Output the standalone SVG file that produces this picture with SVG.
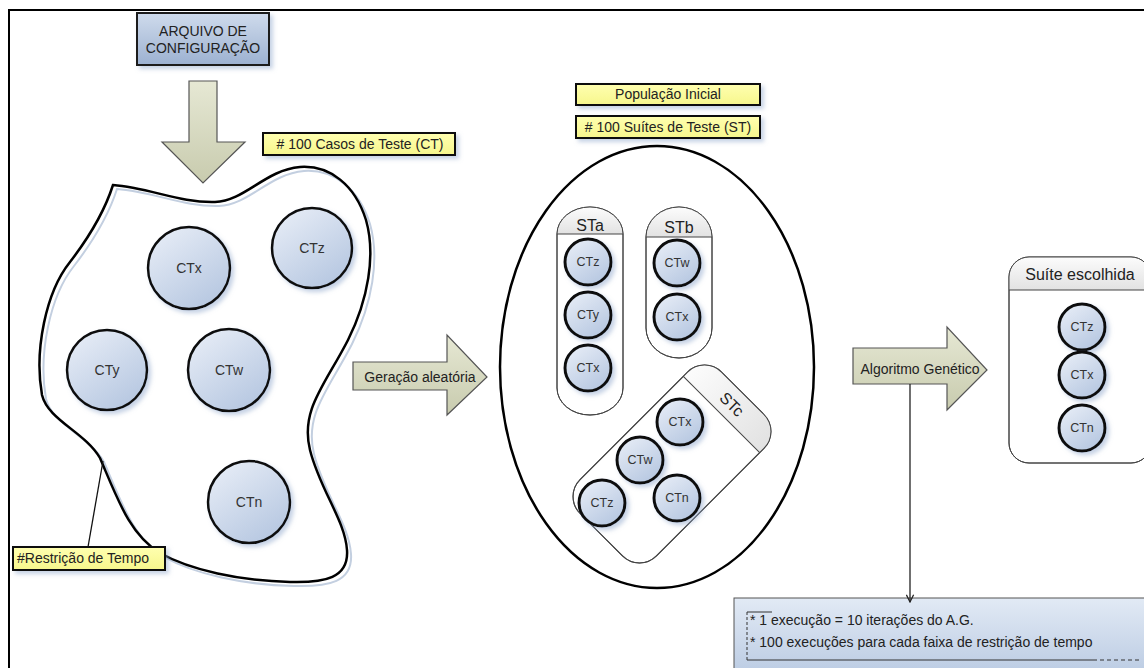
<svg xmlns="http://www.w3.org/2000/svg" width="1144" height="668" viewBox="0 0 1144 668">
<defs>
  <linearGradient id="gBall" x1="0.2" y1="0" x2="0.9" y2="1">
    <stop offset="0" stop-color="#e6ecf6"/><stop offset="1" stop-color="#b2c4df"/>
  </linearGradient>
  <linearGradient id="gBox" x1="0" y1="0" x2="0" y2="1">
    <stop offset="0" stop-color="#cfdbec"/><stop offset="1" stop-color="#9cb1d1"/>
  </linearGradient>
  <linearGradient id="gArrow" x1="0" y1="0" x2="0" y2="1">
    <stop offset="0" stop-color="#e6e8d4"/><stop offset="1" stop-color="#c8cbae"/>
  </linearGradient>
  <linearGradient id="gHead" x1="0" y1="0" x2="0" y2="1">
    <stop offset="0" stop-color="#fcfcfc"/><stop offset="1" stop-color="#e2e2e2"/>
  </linearGradient>
  <linearGradient id="gNote" x1="0" y1="0" x2="0" y2="1">
    <stop offset="0" stop-color="#e2eaf5"/><stop offset="1" stop-color="#b9cae2"/>
  </linearGradient>
  <linearGradient id="gLabel" x1="0" y1="0" x2="0" y2="1">
    <stop offset="0" stop-color="#ffffb0"/><stop offset="1" stop-color="#f6f68c"/>
  </linearGradient>
  <filter id="sh" x="-30%" y="-30%" width="170%" height="170%">
    <feDropShadow dx="3" dy="3" stdDeviation="2" flood-color="#8ea6cc" flood-opacity="0.5"/>
  </filter>
  <marker id="arr" viewBox="0 0 10 10" refX="9" refY="5" markerWidth="9" markerHeight="9" orient="auto" markerUnits="userSpaceOnUse">
    <path d="M1,1 L9,5 L1,9" fill="none" stroke="#222" stroke-width="1.4"/>
  </marker>
  <clipPath id="cSTa"><path d="M557,234 A33,27 0 0 1 623,234 V388 A33,27 0 0 1 557,388 Z"/></clipPath>
  <clipPath id="cSTb"><path d="M646,237 A33,30 0 0 1 712,237 V328 A33,30 0 0 1 646,328 Z"/></clipPath>
  <clipPath id="cSTc"><rect x="-100" y="-54" width="200" height="108" rx="24"/></clipPath>
  <clipPath id="cSel"><rect x="1009" y="257" width="142" height="206" rx="20"/></clipPath>
</defs>
<style>
  text { font-family: "Liberation Sans", Arial, sans-serif; fill: #222; }
  .lbl { font-size: 14px; }
  .ball { fill: url(#gBall); stroke: #111; stroke-width: 2.5; filter: url(#sh); }
  .sball { fill: url(#gBall); stroke: #111; stroke-width: 3; filter: url(#sh); }
  .bt { font-size: 14px; text-anchor: middle; fill: #333; }
  .st { font-size: 12.5px; text-anchor: middle; fill: #333; }
  .note { fill: url(#gLabel); stroke: #111; stroke-width: 2; filter: url(#sh); }
  .arrow { fill: url(#gArrow); stroke: #555; stroke-width: 1.2; }
  .suite { fill: #fff; stroke: #444; stroke-width: 1; }
  .hdr { fill: url(#gHead); }
  .hline { stroke: #444; stroke-width: 1; fill: none; }
  .sname { font-size: 16px; text-anchor: middle; fill: #222; }
</style>

<rect x="0" y="0" width="1144" height="668" fill="#fff"/>
<g id="frame">
  <path d="M9,668 V10 H1144" fill="none" stroke="#000" stroke-width="2"/>
</g>

<g id="config">
  <rect x="137" y="13" width="132" height="52" fill="url(#gBox)" stroke="#1a1a1a" stroke-width="2" filter="url(#sh)"/>
  <text class="lbl" x="203" y="36" text-anchor="middle" font-size="13.5">ARQUIVO DE</text>
  <text class="lbl" x="203" y="53" text-anchor="middle" font-size="13.5">CONFIGURAÇÃO</text>
</g>

<g id="arrow-down">
  <polygon class="arrow" points="189,81 217,81 217,142 245,142 203,183 162,142 189,142"/>
</g>

<g id="label-ct">
  <rect class="note" x="263" y="133" width="192" height="22"/>
  <text class="lbl" x="360" y="149" text-anchor="middle">&#35; 100 Casos de Teste (CT)</text>
</g>

<g id="pool">
  <path d="M113,185 C150,188 180,203 215,202 C245,201 265,170 300,167 C330,165 355,185 366,220 C376,255 368,300 348,340 C325,385 300,410 310,450 C320,490 345,520 347,550 C349,578 325,583 290,582 C240,581 190,570 160,553 C130,535 118,500 100,458 C85,432 48,420 42,395 C34,350 46,292 70,262 C90,236 105,210 113,185 Z" fill="none" stroke="#c3cfe0" stroke-width="2" transform="translate(4,4)"/>
  <path d="M113,185 C150,188 180,203 215,202 C245,201 265,170 300,167 C330,165 355,185 366,220 C376,255 368,300 348,340 C325,385 300,410 310,450 C320,490 345,520 347,550 C349,578 325,583 290,582 C240,581 190,570 160,553 C130,535 118,500 100,458 C85,432 48,420 42,395 C34,350 46,292 70,262 C90,236 105,210 113,185 Z" fill="none" stroke="#000" stroke-width="2.5"/>
</g>

<g id="pool-CTx"><circle class="ball" cx="189" cy="268" r="41"/><text class="bt" x="189" y="273">CTx</text></g>
<g id="pool-CTz"><circle class="ball" cx="312" cy="248" r="40"/><text class="bt" x="312" y="253">CTz</text></g>
<g id="pool-CTy"><circle class="ball" cx="107" cy="370" r="40"/><text class="bt" x="107" y="375">CTy</text></g>
<g id="pool-CTw"><circle class="ball" cx="229" cy="370" r="41"/><text class="bt" x="229" y="375">CTw</text></g>
<g id="pool-CTn"><circle class="ball" cx="249" cy="502" r="41"/><text class="bt" x="249" y="507">CTn</text></g>

<g id="label-tempo">
  <rect class="note" x="13" y="547" width="152" height="23"/>
  <text class="lbl" x="17" y="563">#Restrição de Tempo</text>
</g>

<g id="arrow-geracao">
  <polygon class="arrow" points="353,362 447,362 447,335 487,377 447,415 447,390 353,390"/>
  <text class="lbl" x="420" y="382" text-anchor="middle" font-size="14.5">Geração aleatória</text>
</g>

<g id="label-pop">
  <rect class="note" x="576" y="84" width="184" height="21"/>
  <text class="lbl" x="668" y="99" text-anchor="middle">População Inicial</text>
</g>
<g id="label-st">
  <rect class="note" x="576" y="116" width="184" height="22"/>
  <text class="lbl" x="668" y="132" text-anchor="middle">&#35; 100 Suítes de Teste (ST)</text>
</g>

<g id="population">
  <ellipse cx="657" cy="367" rx="157" ry="221" fill="none" stroke="#000" stroke-width="2.5"/>
</g>

<g id="STa">
  <path class="suite" d="M557,234 A33,27 0 0 1 623,234 V388 A33,27 0 0 1 557,388 Z"/>
  <rect class="hdr" x="557" y="207" width="66" height="27" clip-path="url(#cSTa)"/>
  <path class="hline" d="M557,234 A33,27 0 0 1 623,234 V388 A33,27 0 0 1 557,388 Z M557,234 H623"/>
  <text class="sname" x="590" y="231">STa</text>
  <circle class="sball" cx="588" cy="262" r="23"/><text class="st" x="588" y="266">CTz</text>
  <circle class="sball" cx="588" cy="315" r="23"/><text class="st" x="588" y="319">CTy</text>
  <circle class="sball" cx="588" cy="368" r="23"/><text class="st" x="588" y="372">CTx</text>
</g>

<g id="STb">
  <path class="suite" d="M646,237 A33,30 0 0 1 712,237 V328 A33,30 0 0 1 646,328 Z"/>
  <rect class="hdr" x="646" y="207" width="66" height="30" clip-path="url(#cSTb)"/>
  <path class="hline" d="M646,237 A33,30 0 0 1 712,237 V328 A33,30 0 0 1 646,328 Z M646,237 H712"/>
  <text class="sname" x="679" y="233">STb</text>
  <circle class="sball" cx="677" cy="263" r="23"/><text class="st" x="677" y="267">CTw</text>
  <circle class="sball" cx="677" cy="317" r="23"/><text class="st" x="677" y="321">CTx</text>
</g>

<g id="STc">
  <g transform="translate(672,464) rotate(-45)">
    <rect class="suite" x="-100" y="-54" width="200" height="108" rx="24"/>
    <rect class="hdr" x="70" y="-54" width="30" height="108" clip-path="url(#cSTc)"/>
    <rect x="-100" y="-54" width="200" height="108" rx="24" class="hline"/>
    <line x1="70" y1="-54" x2="70" y2="54" class="hline"/>
    <text class="sname" x="0" y="0" transform="translate(85,0) rotate(90)" dy="6">STc</text>
  </g>
  <circle class="sball" cx="680" cy="422" r="23"/><text class="st" x="680" y="426">CTx</text>
  <circle class="sball" cx="640" cy="460" r="23"/><text class="st" x="640" y="464">CTw</text>
  <circle class="sball" cx="677" cy="498" r="23"/><text class="st" x="677" y="502">CTn</text>
  <circle class="sball" cx="602" cy="503" r="23"/><text class="st" x="602" y="507">CTz</text>
</g>

<g id="arrow-ag">
  <polygon class="arrow" points="853,348 947,348 947,327 987,370 947,410 947,384 853,384"/>
  <text class="lbl" x="920" y="374" text-anchor="middle" font-size="14.5">Algoritmo Genético</text>
</g>

<g id="selected">
  <rect class="suite" x="1009" y="257" width="142" height="206" rx="20"/>
  <rect class="hdr" x="1009" y="257" width="142" height="33" clip-path="url(#cSel)"/>
  <rect class="hline" x="1009" y="257" width="142" height="206" rx="20"/>
  <line class="hline" x1="1009" y1="290" x2="1151" y2="290"/>
  <text class="sname" x="1080" y="280">Suíte escolhida</text>
  <circle class="sball" cx="1082" cy="327" r="23"/><text class="st" x="1082" y="331">CTz</text>
  <circle class="sball" cx="1082" cy="375" r="23"/><text class="st" x="1082" y="379">CTx</text>
  <circle class="sball" cx="1082" cy="428" r="23"/><text class="st" x="1082" y="432">CTn</text>
</g>

<g id="note-exec">
  <rect x="734" y="598" width="420" height="80" fill="url(#gNote)" stroke="#555" stroke-width="1"/>
  <path d="M747,612 H772" stroke="#333" stroke-width="1" fill="none"/>
  <path d="M747,612 V660" stroke="#333" stroke-width="1" stroke-dasharray="3,2" fill="none"/>
  <path d="M747,660 H1093" stroke="#333" stroke-width="1" fill="none"/>
  <path d="M1093,660 H1142" stroke="#333" stroke-width="1" stroke-dasharray="4,3" fill="none"/>
  <text class="lbl" x="750" y="625">* 1 execução = 10 iterações do A.G.</text>
  <text class="lbl" x="750" y="647">* 100 execuções para cada faixa de restrição de tempo</text>
</g>

<g id="connectors">
  <line x1="103" y1="461" x2="88" y2="547" stroke="#111" stroke-width="1.3"/>
  <line x1="910" y1="384" x2="910" y2="602" stroke="#222" stroke-width="1.3" marker-end="url(#arr)"/>
</g>
</svg>
